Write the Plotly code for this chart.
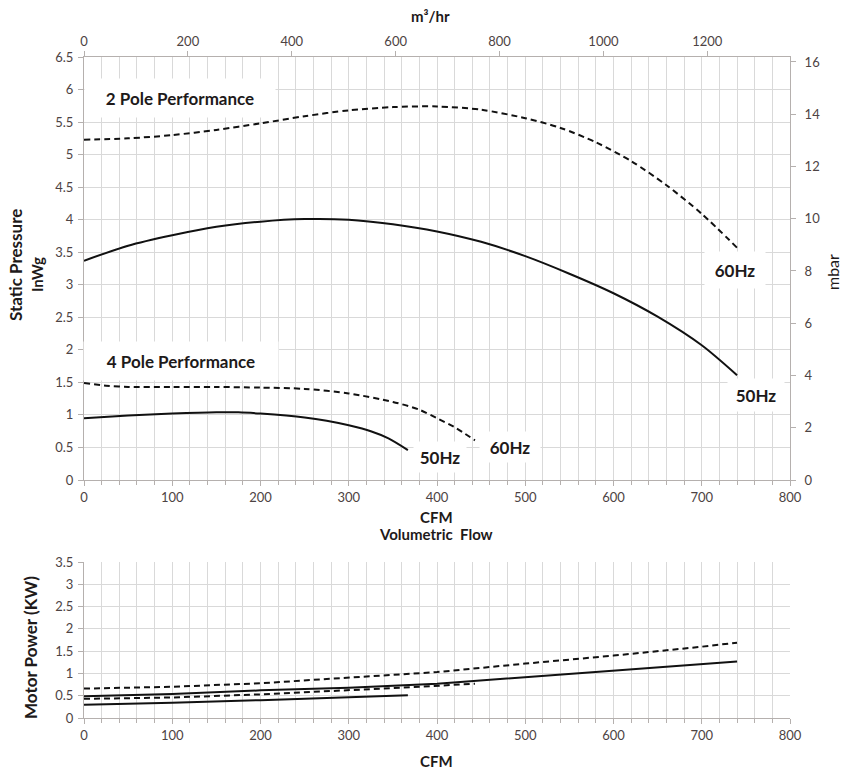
import plotly.graph_objects as go

# ---------------- data ----------------
cfm_2p60 = [0, 50, 100, 150, 200, 250, 300, 350, 400, 450, 500, 540, 580, 620, 660, 700, 740]
sp_2p60 = [5.23, 5.25, 5.30, 5.38, 5.48, 5.59, 5.68, 5.73, 5.74, 5.69, 5.56, 5.41, 5.19, 4.90, 4.53, 4.09, 3.57]

cfm_2p50 = [0, 50, 100, 150, 200, 250, 300, 350, 400, 450, 500, 550, 600, 650, 700, 740]
sp_2p50 = [3.37, 3.60, 3.76, 3.89, 3.97, 4.01, 4.00, 3.93, 3.82, 3.66, 3.44, 3.17, 2.87, 2.51, 2.07, 1.61]

cfm_4p60 = [0, 25, 50, 100, 150, 200, 250, 300, 350, 380, 400, 420, 443]
sp_4p60 = [1.49, 1.45, 1.43, 1.43, 1.43, 1.42, 1.40, 1.33, 1.20, 1.08, 0.95, 0.81, 0.61]

cfm_4p50 = [0, 50, 100, 150, 175, 200, 250, 275, 300, 325, 345, 367]
sp_4p50 = [0.95, 0.99, 1.02, 1.04, 1.04, 1.02, 0.96, 0.91, 0.84, 0.75, 0.64, 0.46]

pw_cfm_2p = [0, 100, 200, 300, 400, 500, 600, 700, 740]
pw_2p60 = [0.66, 0.70, 0.78, 0.90, 1.03, 1.22, 1.40, 1.60, 1.69]
pw_2p50 = [0.49, 0.54, 0.62, 0.68, 0.77, 0.92, 1.06, 1.21, 1.27]
pw_cfm_4p60 = [0, 100, 200, 300, 380, 443]
pw_4p60 = [0.43, 0.46, 0.53, 0.62, 0.70, 0.77]
pw_cfm_4p50 = [0, 100, 200, 300, 367]
pw_4p50 = [0.30, 0.34, 0.40, 0.47, 0.51]

CFM_TO_M3H = 1.699
INWG_TO_MBAR = 2.4908
X_MAX = 800
Y_MAX = 6.5

# ---------------- layout helpers ----------------
W, H = 843, 772
def px(x):
    return x / W
def py(y):
    return 1 - y / H

FONT = "Lato"
TICK_COLOR = "#4d4343"
GRID = "#d9d9d9"
AXLINE = "#b5b0ae"
TXT = "#1e1a1a"
DASH = "6px,4px"

fig = go.Figure()

def add_line(x, y, dashed, xa="x", ya="y", spline=True):
    fig.add_trace(go.Scatter(
        x=x, y=y, mode="lines", xaxis=xa, yaxis=ya,
        line=dict(color="#111111", width=2, dash=DASH if dashed else "solid",
                  shape="spline" if spline else "linear", smoothing=0.8),
        showlegend=False, hoverinfo="skip"))

add_line(cfm_2p60, sp_2p60, True)
add_line(cfm_2p50, sp_2p50, False)
add_line(cfm_4p60, sp_4p60, True)
add_line(cfm_4p50, sp_4p50, False)

# empty trace for secondary axes
fig.add_trace(go.Scatter(x=[], y=[], xaxis="x2", yaxis="y2", showlegend=False))

add_line(pw_cfm_2p, pw_2p60, True, "x3", "y3", False)
add_line(pw_cfm_2p, pw_2p50, False, "x3", "y3", False)
add_line(pw_cfm_4p60, pw_4p60, True, "x3", "y3", False)
add_line(pw_cfm_4p50, pw_4p50, False, "x3", "y3", False)

tickfont = dict(family=FONT, size=13, color=TICK_COLOR)

top_dom_y = [py(480), py(57)]
bot_dom_y = [py(718), py(562)]
dom_x = [px(84), px(790)]

common_x = dict(
    range=[0, X_MAX], dtick=100, tick0=0, showgrid=True, gridcolor=GRID, gridwidth=1,
    minor=dict(dtick=20, showgrid=True, gridcolor=GRID, gridwidth=1, ticks="outside",
               ticklen=4, tickcolor=AXLINE),
    showline=True, linecolor=AXLINE, linewidth=1, ticks="outside", ticklen=5,
    tickcolor=AXLINE, tickfont=tickfont, zeroline=False, automargin=False,
)

common_y = dict(showgrid=True, gridcolor=GRID, showline=True, linecolor=AXLINE,
                ticks="outside", ticklen=5, tickcolor=AXLINE, tickfont=tickfont,
                zeroline=False, ticklabelstandoff=2, automargin=False)

fig.update_layout(
    template="none",
    width=W, height=H,
    margin=dict(l=0, r=0, t=0, b=0, autoexpand=False),
    paper_bgcolor="white", plot_bgcolor="white",
    font=dict(family=FONT),
    showlegend=False,
    xaxis=dict(domain=dom_x, anchor="y", **common_x),
    yaxis=dict(domain=top_dom_y, anchor="x", range=[0, Y_MAX], dtick=0.5, **common_y),
    xaxis2=dict(overlaying="x", side="top", anchor="y", range=[0, X_MAX * CFM_TO_M3H],
                dtick=200, tick0=0, showgrid=False, showline=True, linecolor=AXLINE,
                ticks="outside", ticklen=5, tickcolor=AXLINE, tickfont=tickfont,
                zeroline=False, automargin=False),
    yaxis2=dict(overlaying="y", side="right", anchor="x", range=[0, Y_MAX * INWG_TO_MBAR],
                dtick=2, tick0=0, showgrid=False, showline=True, linecolor=AXLINE,
                ticks="outside", ticklen=5, tickcolor=AXLINE, tickfont=tickfont,
                zeroline=False, ticklabelstandoff=6, automargin=False),
    xaxis3=dict(domain=dom_x, anchor="y3", **common_x),
    yaxis3=dict(domain=bot_dom_y, anchor="x3", range=[0, 3.5], dtick=0.5, **common_y),
)

ann = []
def label(text, x, y, size=17, bold=True, w=None, h=None, bg=None, angle=0, color=TXT):
    d = dict(text=f"<b>{text}</b>" if bold else text, x=px(x), y=py(y), xref="paper", yref="paper",
             showarrow=False, xanchor="center", yanchor="middle", textangle=angle,
             font=dict(family=FONT, size=size, color=color))
    if w is not None:
        d["width"] = w
    if h is not None:
        d["height"] = h
    if bg is not None:
        d["bgcolor"] = bg
    ann.append(d)

# panel labels with white boxes
label("2 Pole Performance", 180, 98, size=17, w=188, h=36, bg="white")
label("4 Pole Performance", 181, 361, size=17, w=192, h=36, bg="white")
label("60Hz", 735, 270, size=17, w=58, h=34, bg="white")
label("50Hz", 756, 395, size=17, w=54, h=30, bg="white")
label("50Hz", 440, 457, size=17, w=50, h=28, bg="white")
label("60Hz", 510, 447, size=17, w=58, h=28, bg="white")

# axis titles
label("m³/hr", 430, 16, size=15)
label("CFM", 436, 517, size=15)
label("Volumetric  Flow", 436, 534, size=15)
label("Static Pressure", 15, 265, size=17, angle=-90)
label("InWg", 37, 275, size=15, angle=-90)
label("mbar", 833, 272, size=16, bold=False, angle=-90)
label("Motor Power (KW)", 30, 648, size=17, angle=-90)
label("CFM", 436, 761, size=15)

fig.update_layout(annotations=ann)

fig.write_html("out.html", config={"displayModeBar": False},
               post_script="document.body.style.margin='0';document.body.style.overflow='hidden';")
